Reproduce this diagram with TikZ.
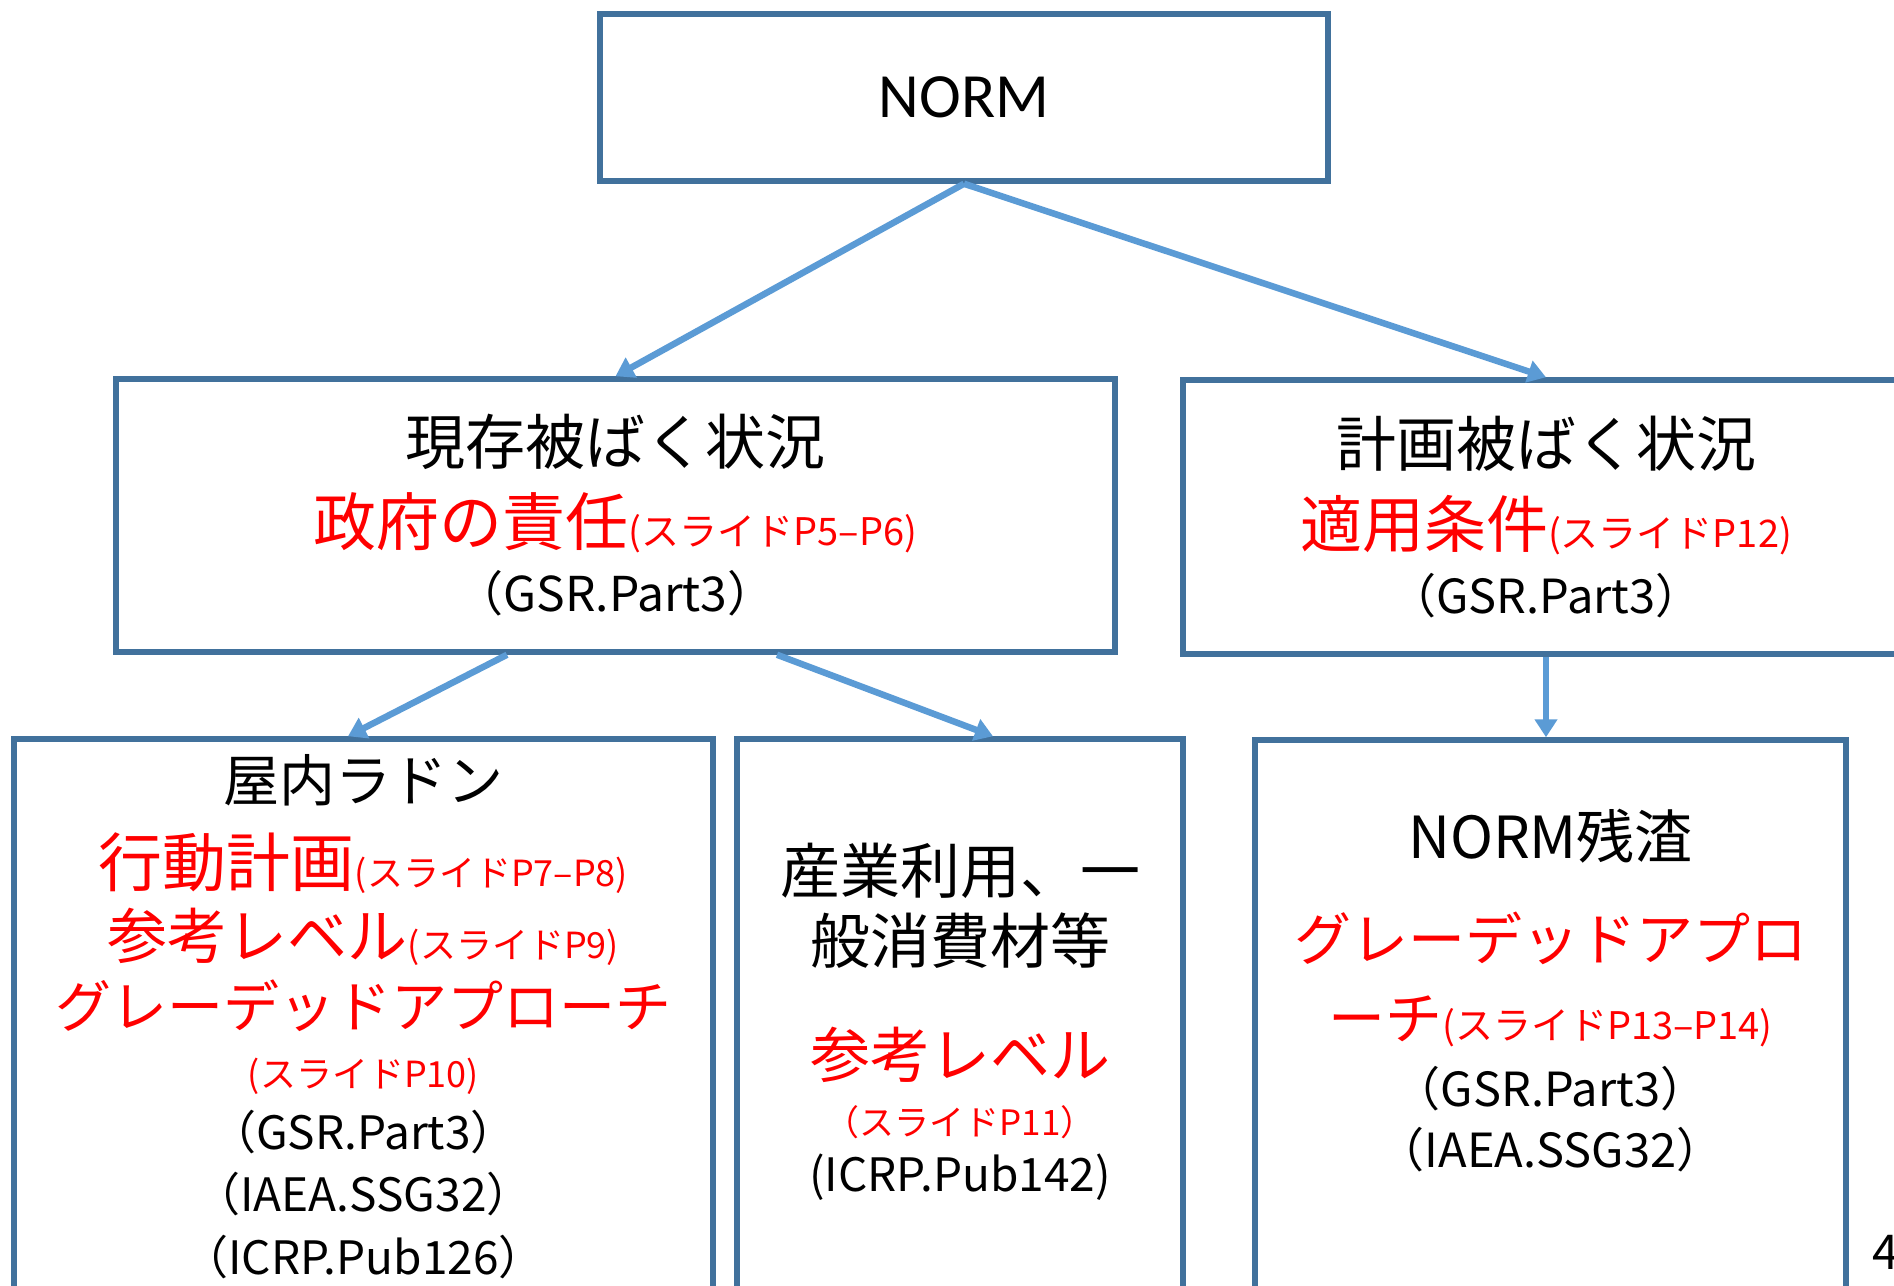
\documentclass[tikz,border=0pt]{standalone}
\usepackage{fontspec}
\setmainfont{Noto Sans CJK JP}
\newfontfamily\calibri{Carlito}
\usetikzlibrary{positioning,arrows.meta}

\definecolor{boxblue}{HTML}{41719C}
\definecolor{linkblue}{HTML}{5B9BD5}
\newcommand{\fsz}[1]{\fontsize{#1pt}{0pt}\selectfont}
\newcommand{\tightlines}{\baselineskip=0pt\lineskiplimit=-1000pt\relax}

\begin{document}
\begin{tikzpicture}[x=1pt,y=1pt,node distance=50pt,on grid,
    box/.style={draw=boxblue,line width=2.75pt,inner sep=0pt},
    txt/.style={inner sep=0pt,align=center,font=\tightlines},
    link/.style={draw=linkblue,line width=3.25pt,-{Triangle[width=11pt,length=9pt]}}]
  \useasboundingbox (0,0) rectangle (947,-642.5);
  \clip (0,0) rectangle (947,-642.5);

  \node[box,minimum width=364,minimum height=83.5,font=\calibri\fsz{31.5}] (norm) at (482,-48.75) {NORM};
  \node[box,txt,minimum width=499.5,minimum height=136.5] (exist) [below left=209 and 174.25 of norm]
    {\fsz{30}現存被ばく状況\\[40.5pt]
     {\color{red}\fsz{31.5}政府の責任\fsz{19}(スライドP5–P6)}\\[33pt]
     \fsz{24}（GSR.Part3）};
  \node[box,txt,minimum width=363,minimum height=137] (plan) [below right=209.75 and 291 of norm]
    {\fsz{30}計画被ばく状況\\[40.5pt]
     {\color{red}\fsz{31}適用条件\fsz{19}(スライドP12)}\\[33pt]
     \fsz{23.5}（GSR.Part3）};

  \node[box,minimum width=349.5,minimum height=300] (radon) [below left=261.75 and 126 of exist] {};
  \node[box,minimum width=223,minimum height=300] (industry) [below right=261.75 and 172.25 of exist] {};
  \node[box,minimum width=295.5,minimum height=300,xshift=2.25pt] (residue) [below=261.5 of plan] {};

  \node[txt] (radon-txt) [below=9 of radon.north,anchor=north]
    {\fsz{28}屋内ラドン\\[42.5pt]
     {\color{red}\fsz{32}行動計画\fsz{18}(スライドP7–P8)}\\[36pt]
     {\color{red}\fsz{30}参考レベル\fsz{18}(スライドP9)}\\[34.5pt]
     {\color{red}\fsz{28}グレーデッドアプローチ}\\[30pt]
     {\color{red}\fsz{18}(スライドP10)}\\[31pt]
     \fsz{23}（GSR.Part3）\\[31pt]
     \fsz{23}（IAEA.SSG32）\\[31.5pt]
     \fsz{23}（ICRP.Pub126）};
  \node[txt] (industry-txt) [below=53 of industry.north,anchor=north]
    {\fsz{30}産業利用、一\\[35pt]
     \fsz{30}般消費材等\\[57pt]
     {\color{red}\fsz{30}参考レベル}\\[29pt]
     {\color{red}\fsz{17.5}（スライドP11）}\\[28pt]
     \fsz{23}(ICRP.Pub142)};
  \node[txt] (residue-txt) [below=35.5 of residue.north,anchor=north]
    {\fsz{29}NORM残渣\\[51pt]
     {\color{red}\fsz{28.5}グレーデッドアプロ}\\[39.5pt]
     {\color{red}\fsz{28.5}ーチ\fsz{19}(スライドP13–P14)}\\[33.5pt]
     \fsz{23.5}（GSR.Part3）\\[30.5pt]
     \fsz{23.5}（IAEA.SSG32）};
  \node[inner sep=0pt,font=\fsz{24},anchor=west] (page) at (936,-626) {4};

  \draw[link] (norm.south) -- (exist.north);
  \draw[link] (norm.south) -- (plan.north);
  \draw[link] ([xshift=-54.25pt]exist.south) -- ([xshift=-7.75pt]radon.north);
  \draw[link] ([xshift=80.75pt]exist.south) -- ([xshift=16.5pt]industry.north);
  \draw[link] (plan.south) -- (plan.south |- residue.north);
\end{tikzpicture}
\end{document}
